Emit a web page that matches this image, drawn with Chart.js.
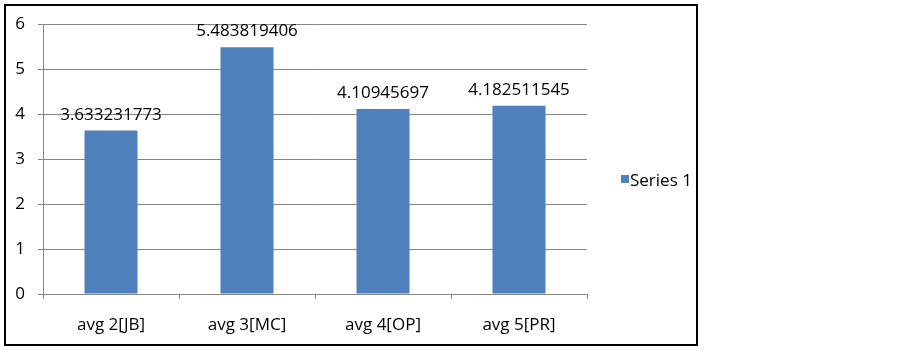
<!DOCTYPE html>
<html>
<head>
<meta charset="utf-8">
<script src="https://cdn.jsdelivr.net/npm/chart.js@4.4.0/dist/chart.umd.min.js"></script>
<style>
  body { margin: 0; background: #fff; }
  #wrap { position: relative; width: 902px; height: 350px; }
  #frame { position: absolute; left: 4px; top: 4px; width: 690px; height: 338px; border: 2px solid #000; pointer-events: none; }
  canvas { position: absolute; left: 0; top: 0; }
</style>
</head>
<body>
<div id="wrap">
  <canvas id="chart" width="902" height="350"></canvas>
  <div id="frame"></div>
</div>
<script>
var categories = ['avg 2[JB]', 'avg 3[MC]', 'avg 4[OP]', 'avg 5[PR]'];
var series_name = 'Series 1';
var series_values = [3.633231773, 5.483819406, 4.10945697, 4.182511545];
var y_ticks = [0, 1, 2, 3, 4, 5, 6];

var bar_color = '#4F81BD';
var grid_color = '#868686';
var font_family = '"Open Sans", Calibri, sans-serif';

// draws the value above each bar and the legend on the right
var labelsPlugin = {
  id: 'labels',
  afterDatasetsDraw: function(chart) {
    var ctx = chart.ctx;
    var meta = chart.getDatasetMeta(0);
    ctx.save();
    ctx.font = '17px ' + font_family;
    ctx.fillStyle = '#000';
    ctx.textAlign = 'center';
    ctx.textBaseline = 'alphabetic';
    meta.data.forEach(function(bar, i) {
      ctx.fillText(String(chart.data.datasets[0].data[i]), bar.x, bar.y - 11);
    });

    // legend
    var lx = chart.chartArea.right + 34;
    var ly = 180;
    ctx.fillStyle = bar_color;
    ctx.fillRect(lx, ly - 5, 8, 8);
    ctx.fillStyle = '#000';
    ctx.textAlign = 'left';
    ctx.fillText(chart.data.datasets[0].label, lx + 9, ly + 6);
    ctx.restore();
  }
};

var ctx = document.getElementById('chart').getContext('2d');
new Chart(ctx, {
  type: 'bar',
  data: {
    labels: categories,
    datasets: [{
      label: series_name,
      data: series_values,
      backgroundColor: bar_color,
      borderWidth: 0,
      categoryPercentage: 1,
      barPercentage: 0.39
    }]
  },
  options: {
    responsive: false,
    animation: false,
    devicePixelRatio: 1,
    layout: { padding: { left: 0, top: 24, right: 315, bottom: 0 } },
    plugins: {
      legend: { display: false },
      tooltip: { enabled: false }
    },
    scales: {
      x: {
        grid: { display: true, drawOnChartArea: false, drawTicks: true, tickLength: 5, offset: true, color: grid_color },
        border: { display: true, color: grid_color },
        ticks: { color: '#000', font: { family: font_family, size: 17 }, padding: 16, maxRotation: 0 },
        afterFit: function(scale) { scale.height = 56; }
      },
      y: {
        min: 0,
        max: 6,
        afterBuildTicks: function(scale) {
          scale.ticks = y_ticks.map(function(v) { return { value: v }; });
        },
        grid: { color: grid_color, drawTicks: true, tickLength: 5 },
        border: { display: true, color: grid_color },
        ticks: { color: '#000', font: { family: font_family, size: 17 }, padding: 13 },
        afterFit: function(scale) { scale.width = 43; }
      }
    }
  },
  plugins: [labelsPlugin]
});
</script>
</body>
</html>
